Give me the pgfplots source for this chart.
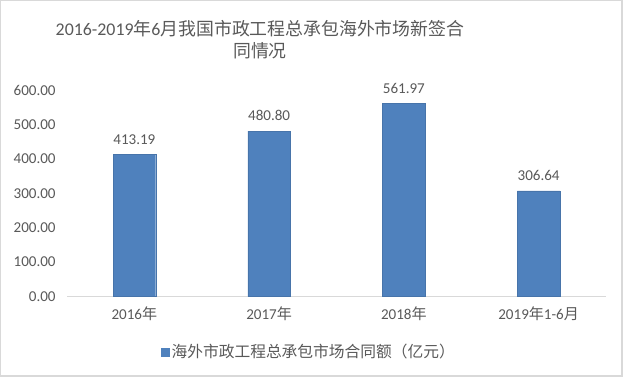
\documentclass[border=0pt]{standalone}
\usepackage{pgfplots}
\pgfplotsset{compat=1.18}
\usepackage{fontspec}
\setmainfont{Carlito}
\newfontfamily\cjk{Noto Sans CJK SC}
\definecolor{barblue}{HTML}{4F81BD}
\definecolor{txt}{HTML}{595959}
\definecolor{frame}{HTML}{D9D9D9}
\begin{document}
\begin{tikzpicture}
\path[use as bounding box] (0,0) rectangle (468pt,-285pt);
\draw[frame, line width=0.9pt] (0.5pt,-0.5pt) rectangle (466.5pt,-282pt);
\node[txt, font=\fontsize{13.4}{16.5}\selectfont, align=center] at (195pt,-29.5pt)
  {2016-2019{\cjk 年}6{\cjk 月我国市政工程总承包海外市场新签合}\\{\cjk 同情况}};
\begin{axis}[
  at={(50.25pt,-222.4pt)}, anchor=south west,
  scale only axis, width=404.25pt, height=154.9pt,
  ymin=0, ymax=600, ytick={0,100,...,600},
  xmin=-0.5, xmax=3.5, xtick={0,1,2,3},
  xticklabels={{2016{\cjk 年}},{2017{\cjk 年}},{2018{\cjk 年}},{2019{\cjk 年}1-6{\cjk 月}}},
  axis x line*=bottom, axis y line*=left,
  x axis line style={frame, line width=0.9pt, -},
  y axis line style={draw=none},
  major tick length=0pt,
  ytick style={draw=none}, xtick style={draw=none},
  tick label style={txt, font=\fontsize{11.3}{13}\selectfont},
  xticklabel style={yshift=-4pt},
  yticklabel style={xshift=-5pt},
  /pgf/number format/.cd, fixed, fixed zerofill, precision=2, assume math mode=true, /pgfplots/.cd,
  ybar, bar width=32pt,
  nodes near coords,
  nodes near coords style={txt, font=\fontsize{11.3}{13}\selectfont, yshift=4pt,
    /pgf/number format/.cd, fixed, fixed zerofill, precision=2, assume math mode=true},
  legend style={at={(0.449,-0.269)}, anchor=center, draw=none, fill=none,
    font=\fontsize{11.8}{13}\selectfont\cjk, text=txt, inner sep=0pt},
  legend image code/.code={\fill[barblue] (0pt,-3pt) rectangle (6pt,3pt);},
  clip=false,
]
\addplot[fill=barblue, draw=barblue!90!black, line width=0.3pt] coordinates {(0,413.19) (1,480.80) (2,561.97) (3,306.64)};
\addlegendentry{海外市政工程总承包市场合同额（亿元）}
\end{axis}
\end{tikzpicture}
\end{document}
